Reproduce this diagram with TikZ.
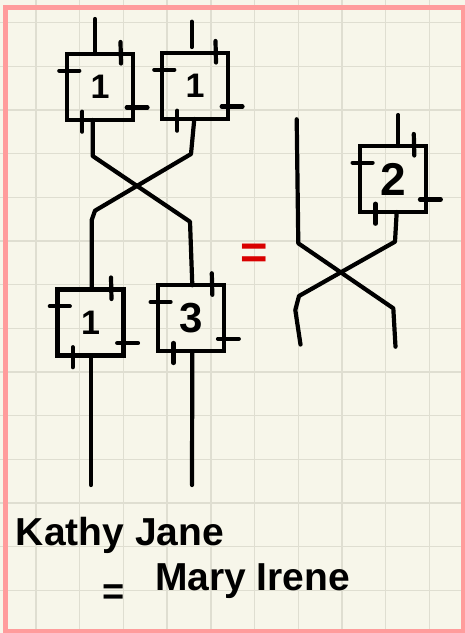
\documentclass[tikz,border=0pt]{standalone}
\usepackage{fontspec}
\setmainfont{Liberation Sans}
\definecolor{paper}{HTML}{F7F6EA}
\definecolor{gridc}{HTML}{DFDED1}
\definecolor{pinkb}{HTML}{FF9C9C}
\definecolor{redink}{HTML}{D90000}
\tikzset{
  wire/.style={line width=4.2pt, line cap=round, line join=round},
  tickmark/.style={line width=4.2pt, line cap=round},
  gate/.style={draw, line width=4.2pt, minimum width=66pt, minimum height=66pt, inner sep=0pt, outer sep=0pt},
  gridline/.style={draw=gridc, line width=1.4pt},
  hand/.style={inner sep=0pt, outer sep=0pt}
}
\newcommand\gatebox[4]{%
  \node[gate, font=\bfseries\fontsize{#3}{#3}\selectfont] (#1) at (#2) {#4};
  \draw[tickmark] ([xshift=-12.5pt,yshift=12pt]#1.north east) -- ([xshift=-12pt,yshift=-9.5pt]#1.north east);
  \draw[tickmark] ([xshift=-7.7pt,yshift=-16.7pt]#1.north west) -- ([xshift=12.3pt,yshift=-16.7pt]#1.north west);
  \draw[tickmark] ([xshift=-6.3pt,yshift=12.5pt]#1.south east) -- ([xshift=14.5pt,yshift=12.5pt]#1.south east);
  \draw[tickmark] ([xshift=15.2pt,yshift=8.3pt]#1.south west) -- ([xshift=15.2pt,yshift=-11.7pt]#1.south west);
}
\begin{document}
\begin{tikzpicture}[x=1pt,y=-1pt]
\useasboundingbox (0,0) rectangle (465,633);
\fill[paper] (0,0) rectangle (465,633);
\begin{scope}
\clip (0,0) rectangle (465,633);
\foreach \i in {-1,...,10} \draw[gridline] ({36+43.7*\i},0) -- ({36+43.7*\i},633);
\foreach \j in {-1,...,14} \draw[gridline] (0,{22.7+43.66*\j}) -- (465,{22.7+43.66*\j});
\draw[draw=pinkb, line width=5.5pt] (5.5,7.5) rectangle (463.5,631.5);
\end{scope}

% left diagram
\gatebox{A}{100,87}{34}{1}
\gatebox{B}{195,86}{34}{1}
\gatebox{C}{90.5,322.5}{34}{1}
\gatebox{D}{191.3,318.3}{42}{3}

\coordinate (a0) at (95,19);
\coordinate (b0) at (191.7,21.7);
\coordinate (c1) at (91,485);
\coordinate (d1) at (192,485);
\draw[wire] (a0) -- ([xshift=-5pt]A.north);
\draw[wire] (b0) -- ([xshift=-3.3pt,yshift=6pt]B.north);
\draw[wire] ([xshift=-7.3pt]A.south) -- (92.7,156) -- (190,221.7) -- ([xshift=1pt]D.north);
\draw[wire] ([xshift=-0.7pt]B.south) -- (191,154) -- (95,210.7) -- (91.7,220) -- ([xshift=1.2pt]C.north);
\draw[wire] ([xshift=0.5pt]C.south) -- (c1);
\draw[wire] ([xshift=1pt]D.south) -- (d1);

% equals
\node[hand, text=redink, font=\bfseries\fontsize{47}{47}\selectfont] (eq) at (254.5,256) {=};

% right diagram
\gatebox{E}{393.3,179}{46}{2}
\coordinate (s0) at (296.7,119.3);
\coordinate (s1) at (395.5,346.7);
\coordinate (e0) at (398.3,115);
\coordinate (e1) at (300.5,344.5);
\draw[wire] (s0) -- (298.3,243.3) -- (393.3,308.3) -- (s1);
\draw[wire] ([xshift=3.4pt]E.south) -- (395,241.7) -- (299,296) -- (295.3,310) -- (e1);
\draw[wire] (e0) -- ([xshift=5pt]E.north);

% text
\node[hand, anchor=base west, font=\bfseries\fontsize{39}{39}\selectfont] (t1) at (16,545) {Kathy Jane};
\node[hand, font=\bfseries\fontsize{38}{38}\selectfont] (t2) at (114,595) {=};
\node[hand, anchor=base west, font=\bfseries\fontsize{39}{39}\selectfont] (t3) at (155,590) {Mary Irene};
\end{tikzpicture}
\end{document}
